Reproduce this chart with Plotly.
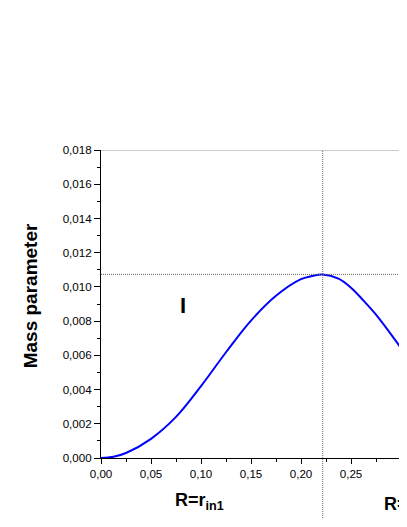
import plotly.graph_objects as go

# values
r_values = [0.0, 0.0125, 0.025, 0.05, 0.075, 0.10, 0.125, 0.15, 0.175,
            0.20, 0.21, 0.2217, 0.2375, 0.25, 0.2625, 0.275, 0.30, 0.31]
mass_param = [0.0, 0.00007, 0.00029, 0.00112, 0.0024, 0.0042, 0.00618,
              0.00803, 0.00948, 0.01045, 0.01062, 0.01073, 0.01048,
              0.00995, 0.0092, 0.00838, 0.00643, 0.0056]

r_peak = 0.2217
m_peak = 0.01073

x_range = [0, 0.306]
y_range = [0, 0.018]

FONT = "Liberation Sans, Arial, sans-serif"

fig = go.Figure()

fig.add_trace(go.Scatter(
    x=r_values, y=mass_param,
    mode='lines',
    line=dict(color='#0000ff', width=2, shape='spline', smoothing=1.0),
    showlegend=False,
))

# dotted guide lines at the maximum
fig.add_shape(type='line', xref='x', yref='paper', x0=r_peak, x1=r_peak,
              y0=-0.208, y1=1, line=dict(color='#666666', width=1, dash='1px,1px'))
fig.add_shape(type='line', xref='x', yref='y', x0=0, x1=x_range[1],
              y0=m_peak, y1=m_peak, line=dict(color='#666666', width=1, dash='1px,1px'))
# top frame line
fig.add_shape(type='line', xref='paper', yref='y', x0=0, x1=1,
              y0=y_range[1], y1=y_range[1], line=dict(color='#999999', width=1))

fig.add_annotation(text="<b>Mass parameter</b>", xref='paper', yref='paper',
                   x=-0.232, y=0.525, textangle=-90, showarrow=False,
                   xanchor='center', yanchor='middle',
                   font=dict(family=FONT, size=19, color='black'))
fig.add_annotation(text="<b>I</b>", xref='x', yref='y', x=0.0815, y=0.00891,
                   xanchor='center', yanchor='middle', showarrow=False,
                   font=dict(family=FONT, size=22, color='black'))
fig.add_annotation(text="<b>R=r<sub>in1</sub></b>", xref='paper', yref='paper',
                   x=0.323, y=-0.14, xanchor='center', yanchor='middle', showarrow=False,
                   font=dict(family=FONT, size=18, color='black'))
fig.add_annotation(text="<b>R=r<sub>in2</sub></b>", xref='paper', yref='paper',
                   x=0.917, y=-0.153, xanchor='left', yanchor='middle', showarrow=False,
                   font=dict(family=FONT, size=18, color='black'))

axis_common = dict(showgrid=False, zeroline=False, showline=True,
                   linecolor='black', linewidth=1, tickcolor='black', tickwidth=1)

# the page body adds an 8px offset, so the figure is sized to fit the window
fig.update_layout(
    width=399, height=511,
    margin=dict(l=93, r=0, t=142, b=61),
    plot_bgcolor='white', paper_bgcolor='white',
    separators=', ',
    font=dict(family=FONT, size=11.6, color='black'),
    xaxis=dict(range=x_range, dtick=0.05, tick0=0, tickformat='.2f',
               ticks='outside', ticklen=5,
               minor=dict(ticks='outside', ticklen=3, dtick=0.025, tick0=0,
                          tickcolor='black'),
               **axis_common),
    yaxis=dict(range=y_range, dtick=0.002, tick0=0, tickformat='.3f',
               ticks='outside', ticklen=6,
               minor=dict(ticks='outside', ticklen=3, dtick=0.001, tick0=0,
                          tickcolor='black'),
               **axis_common),
    xaxis2=dict(range=x_range, overlaying='x', dtick=0.05, tick0=0,
                ticks='inside', ticklen=5, showticklabels=False,
                minor=dict(ticks='inside', ticklen=3, dtick=0.025, tick0=0,
                           tickcolor='black'),
                **axis_common),
    yaxis2=dict(range=y_range, overlaying='y', dtick=0.002, tick0=0,
                ticks='inside', ticklen=6, showticklabels=False,
                minor=dict(ticks='inside', ticklen=3, dtick=0.001, tick0=0,
                           tickcolor='black'),
                **axis_common),
)

fig.write_html("out.html")
